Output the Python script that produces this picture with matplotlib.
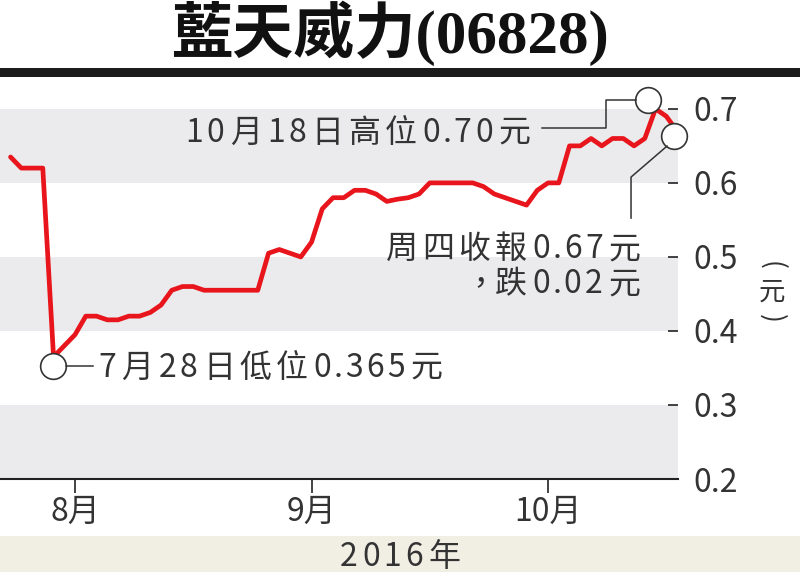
import matplotlib
matplotlib.use("Agg")
import matplotlib.pyplot as plt
import numpy as np
import pandas as pd
from matplotlib.transforms import offset_copy
from matplotlib.lines import Line2D
from matplotlib.patches import Rectangle

plt.rcParams["font.family"] = ["Noto Sans CJK TC", "DejaVu Sans"]

# ---- data -------------------------------------------------------------
# HK trading sessions (Aug 2 typhoon closure, Oct 10 Chung Yeung)
trade_days = pd.bdate_range("2016-07-22", "2016-10-20", freq="C",
                            holidays=["2016-08-02", "2016-10-10"])
prices = [0.635, 0.62, 0.62, 0.62, 0.365, 0.38, 0.395, 0.42, 0.42, 0.415,
          0.415, 0.42, 0.42, 0.425, 0.435, 0.455, 0.46, 0.46, 0.455, 0.455,
          0.455, 0.455, 0.455, 0.455, 0.505, 0.51, 0.505, 0.50, 0.52, 0.565,
          0.58, 0.58, 0.59, 0.59, 0.585, 0.575, 0.578, 0.58, 0.585, 0.60,
          0.60, 0.60, 0.60, 0.60, 0.595, 0.585, 0.58, 0.575, 0.57, 0.59,
          0.60, 0.60, 0.65, 0.65, 0.66, 0.65, 0.66, 0.66, 0.65, 0.66,
          0.70, 0.69, 0.67]
y_ticks = [0.2, 0.3, 0.4, 0.5, 0.6, 0.7]
y_ticklabels = ["0.2", "0.3", "0.4", "0.5", "0.6", "0.7"]
title = "藍天威力(06828)"
year_label = "2016年"
unit_label = "元"

# ---- layout -----------------------------------------------------------
W, H = 800, 572
INK = "#333333"
RED = "#e8161c"
BAND = "#ebebed"

fig = plt.figure(figsize=(W / 100, H / 100), dpi=100)
fig.patch.set_facecolor("white")
ax = fig.add_axes([0, (H - 479) / H, 678 / W, (479 - 80) / H])

x = np.arange(len(trade_days))
ax.set_xlim(-0.98, x[-1] + 0.09)
ax.set_ylim(0.2, 0.739)

for lo in (0.2, 0.4, 0.6):
    ax.axhspan(lo, lo + 0.1, color=BAND, lw=0, zorder=0)

ax.plot(x, prices, color=RED, lw=3.4, solid_joinstyle="round",
        solid_capstyle="round", zorder=3)

for s in ("top", "left", "right"):
    ax.spines[s].set_visible(False)
ax.spines["bottom"].set_linewidth(1.5)
ax.spines["bottom"].set_color("#222222")

ax.yaxis.tick_right()
ax.set_yticks(y_ticks)
ax.set_yticklabels(y_ticklabels)
ax.tick_params(axis="y", direction="in", length=7, width=1.2,
               color="#222222", labelcolor=INK, labelsize=23, pad=10.8)

month_idx = [i for i in range(1, len(trade_days))
             if trade_days[i].month != trade_days[i - 1].month]
ax.set_xticks(month_idx)
ax.set_xticklabels([f"{trade_days[i].month}月" for i in month_idx])
ax.tick_params(axis="x", direction="out", length=10, width=1.2,
               color="#222222", labelcolor=INK, labelsize=23, pad=2)


def fig_pt(px, py):
    """pixel position measured from the top-left corner -> figure fraction"""
    return px / W, 1 - py / H


renderer = fig.canvas.get_renderer()


def is_wide(ch):
    return ord(ch) >= 0x2E80


def spaced(s, px, base, size=23, gap_wide=4.5, gap_narrow=1.5, ha="left",
           color=INK):
    """lay out a string glyph by glyph with a little extra tracking"""
    em = size * fig.dpi / 72
    items = []
    for ch in s:
        t = fig.text(0, 0, ch, fontsize=size, color=color,
                     ha="center", va="baseline")
        ink = t.get_window_extent(renderer).width
        if ch == "，":
            slot = 0.6 * em
        elif is_wide(ch):
            slot = em
        elif ch == ".":
            slot = 0.28 * em
        else:
            slot = ink + 0.06 * em
        items.append((ch, t, slot))
    gaps = []
    for a, b in zip(s[:-1], s[1:]):
        gaps.append(gap_wide if (is_wide(a) or is_wide(b)) else gap_narrow)
    total = sum(sl for _, _, sl in items) + sum(gaps)
    if ha == "left":
        cur = px
    elif ha == "right":
        cur = px - total
    else:
        cur = px - total / 2
    for k, (_, t, sl) in enumerate(items):
        t.set_position(fig_pt(cur + sl / 2, base))
        cur += sl + (gaps[k] if k < len(gaps) else 0)


def leader(points):
    xs, ys = zip(*[fig_pt(px, py) for px, py in points])
    fig.add_artist(Line2D(xs, ys, transform=fig.transFigure,
                          color=INK, lw=1.1, zorder=6))


def ring(i, v, dx, dy):
    """open circle at a data point, nudged by (dx, dy) pixels (dy downwards)"""
    tr = offset_copy(ax.transData, fig=fig, x=dx, y=-dy, units="dots")
    ax.plot([i], [v], marker="o", ms=18.5, mfc="white", mec=INK, mew=1.2,
            transform=tr, zorder=5, clip_on=False)
    px, py = ax.transData.transform((i, v))
    return px + dx, H - py + dy


# high
i_hi = int(np.argmax(prices))
d_hi = trade_days[i_hi]
cx, cy = ring(i_hi, prices[i_hi], -7.5, -9)
leader([(cx - 12, cy), (cx - 42, cy), (cx - 42, cy + 28), (cx - 106, cy + 28)])
spaced(f"{d_hi.month}月{d_hi.day}日高位{prices[i_hi]:.2f}元",
       cx - 118, cy + 42, ha="right")

# latest close
i_cl = len(prices) - 1
cx, cy = ring(i_cl, prices[i_cl], -3, 5)
leader([(cx - 7, cy + 10), (cx - 43, cy + 41), (cx - 43, cy + 82)])
spaced(f"周四收報{prices[i_cl]:.2f}元", cx - 34, cy + 122, ha="right")
spaced(f"，跌{prices[i_cl - 1] - prices[i_cl]:.2f}元", cx - 34, cy + 157,
       ha="right")

# low
i_lo = int(np.argmin(prices))
d_lo = trade_days[i_lo]
cx, cy = ring(i_lo, prices[i_lo], -1, 9)
leader([(cx + 13.5, cy), (cx + 40.5, cy)])
spaced(f"{d_lo.month}月{d_lo.day}日低位{prices[i_lo]:.3f}元",
       cx + 44.5, cy + 11, ha="left")

# unit label, written vertically
fig.text(*fig_pt(772, 265), "(", rotation=-90, fontsize=19, color=INK,
         ha="center", va="center")
fig.text(*fig_pt(772, 292), unit_label, fontsize=19, color=INK,
         ha="center", va="center")
fig.text(*fig_pt(772, 318), ")", rotation=-90, fontsize=19, color=INK,
         ha="center", va="center")

# header and rule
fig.text(*fig_pt(390, 33), title, fontsize=44, fontweight="bold",
         family=["Liberation Serif", "Noto Sans CJK TC"], color="#111111",
         ha="center", va="center")
fig.add_artist(Rectangle(fig_pt(0, 77), 1, 8.5 / H, transform=fig.transFigure,
                         color="#1c1c1c", lw=0, zorder=1))

# footer band with the year
fig.add_artist(Rectangle((0, 0), 1, (H - 536) / H, transform=fig.transFigure,
                         color="#f1eee4", lw=0, zorder=0))
spaced(year_label, 400, 566, size=23, gap_wide=5, gap_narrow=2, ha="center")

fig.savefig("out.png", dpi=100, facecolor="white")
